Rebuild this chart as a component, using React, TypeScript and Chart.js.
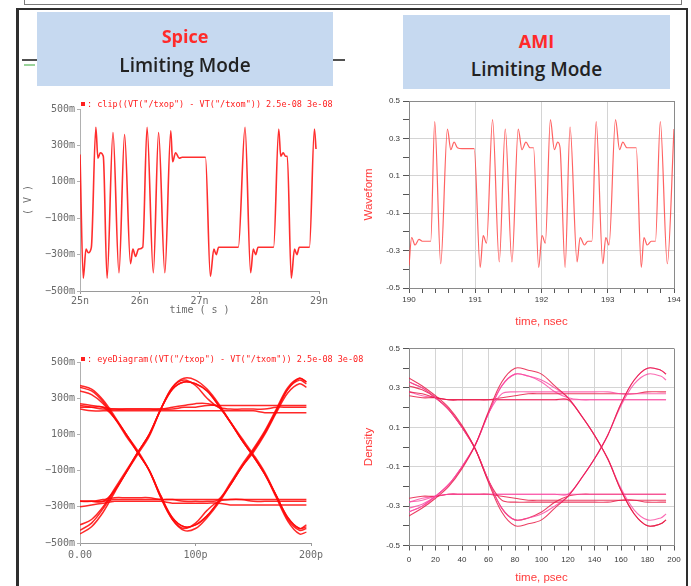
import React, { useEffect, useRef } from "react";
import { Chart, registerables } from "chart.js";

Chart.register(...registerables);

// ---------------- Spice transient waveform (top-left) ----------------
const SPICE_WAVE_T_NS = [25.0, 25.055, 25.1, 25.14, 25.19, 25.265, 25.3, 25.34, 25.39, 25.453, 25.552, 25.652, 25.746, 25.845, 25.885, 25.93, 25.98, 26.05, 26.122, 26.227, 26.315, 26.42, 26.519, 26.55, 26.6, 26.66, 26.71, 27.1, 27.182, 27.24, 27.28, 27.32, 27.65, 27.762, 27.856, 27.9, 27.94, 27.98, 28.24, 28.326, 28.36, 28.4, 28.44, 28.47, 28.536, 28.59, 28.63, 28.67, 28.84, 28.923, 28.95];
const SPICE_WAVE_V = [0.25, -0.43, -0.27, -0.29, -0.26, 0.4, 0.23, 0.26, 0.24, -0.43, 0.37, -0.4, 0.36, -0.35, -0.27, -0.31, -0.27, -0.26, 0.4, -0.4, 0.37, -0.4, 0.38, 0.21, 0.26, 0.23, 0.235, 0.235, -0.42, -0.27, -0.3, -0.26, -0.26, 0.4, -0.4, -0.27, -0.3, -0.26, -0.26, 0.39, 0.24, 0.26, 0.24, 0.24, -0.43, -0.27, -0.3, -0.26, -0.26, 0.39, 0.28];
const SPICE_WAVE_X_TICKS = [25, 26, 27, 28, 29];
const SPICE_WAVE_X_LABELS = ["25n", "26n", "27n", "28n", "29n"];
const SPICE_WAVE_LEGEND = ': clip((VT("/txop") - VT("/txom")) 2.5e-08 3e-08';

// ---------------- Spice eye diagram (bottom-left) ----------------
const SPICE_EYE_T_PS = [0, 10, 20, 30, 40, 50, 60, 70, 80, 90, 100, 110, 120, 130, 140, 150, 160, 170, 180, 190, 196];
const SPICE_EYE_1 = [0.37, 0.35, 0.29, 0.2, 0.1, 0.01, -0.1, -0.25, -0.37, -0.43, -0.42, -0.36, -0.28, -0.18, -0.08, 0.01, 0.11, 0.23, 0.35, 0.41, 0.39];
const SPICE_EYE_2 = [0.34, 0.32, 0.27, 0.19, 0.09, 0.0, -0.1, -0.24, -0.36, -0.41, -0.4, -0.35, -0.27, -0.18, -0.08, 0.0, 0.1, 0.22, 0.33, 0.38, 0.36];
const SPICE_EYE_3 = [-0.45, -0.41, -0.33, -0.22, -0.11, -0.01, 0.09, 0.24, 0.36, 0.41, 0.4, 0.35, 0.27, 0.17, 0.07, -0.02, -0.12, -0.25, -0.38, -0.45, -0.44];
const SPICE_EYE_4 = [-0.4, -0.37, -0.3, -0.2, -0.1, 0.0, 0.1, 0.24, 0.35, 0.39, 0.38, 0.34, 0.26, 0.17, 0.07, -0.02, -0.12, -0.24, -0.36, -0.42, -0.41];
const SPICE_EYE_5 = [0.36, 0.34, 0.28, 0.19, 0.1, 0.0, -0.1, -0.25, -0.37, -0.42, -0.39, -0.32, -0.27, -0.26, -0.26, -0.27, -0.27, -0.27, -0.27, -0.27, -0.27];
const SPICE_EYE_6 = [-0.43, -0.39, -0.31, -0.21, -0.11, 0.0, 0.1, 0.24, 0.36, 0.4, 0.37, 0.3, 0.25, 0.24, 0.24, 0.24, 0.24, 0.25, 0.25, 0.25, 0.25];
const SPICE_EYE_7 = [0.26, 0.25, 0.24, 0.24, 0.24, 0.24, 0.24, 0.24, 0.25, 0.26, 0.27, 0.27, 0.25, 0.17, 0.08, -0.01, -0.11, -0.24, -0.37, -0.43, -0.42];
const SPICE_EYE_8 = [-0.27, -0.27, -0.26, -0.25, -0.25, -0.25, -0.25, -0.26, -0.26, -0.27, -0.27, -0.27, -0.26, -0.17, -0.07, 0.02, 0.12, 0.24, 0.36, 0.41, 0.39];
const SPICE_EYE_9 = [0.27, 0.26, 0.25, 0.24, 0.24, 0.24, 0.24, 0.24, 0.24, 0.25, 0.25, 0.26, 0.26, 0.26, 0.26, 0.26, 0.26, 0.26, 0.26, 0.26, 0.26];
const SPICE_EYE_10 = [0.24, 0.23, 0.23, 0.23, 0.23, 0.23, 0.23, 0.23, 0.23, 0.23, 0.23, 0.23, 0.23, 0.23, 0.23, 0.23, 0.22, 0.22, 0.22, 0.22, 0.22];
const SPICE_EYE_11 = [-0.27, -0.27, -0.27, -0.26, -0.26, -0.26, -0.26, -0.26, -0.26, -0.26, -0.26, -0.26, -0.26, -0.26, -0.26, -0.26, -0.26, -0.26, -0.26, -0.26, -0.26];
const SPICE_EYE_12 = [-0.3, -0.29, -0.28, -0.27, -0.27, -0.27, -0.27, -0.27, -0.28, -0.28, -0.28, -0.28, -0.28, -0.29, -0.29, -0.29, -0.29, -0.29, -0.29, -0.29, -0.29];
const SPICE_EYE_13 = [0.25, 0.25, 0.25, 0.19, 0.1, 0.0, -0.1, -0.24, -0.36, -0.41, -0.4, -0.35, -0.27, -0.18, -0.08, 0.01, 0.11, 0.23, 0.35, 0.4, 0.38];
const SPICE_EYE_14 = [-0.27, -0.27, -0.27, -0.21, -0.11, 0.0, 0.1, 0.24, 0.35, 0.39, 0.38, 0.34, 0.26, 0.17, 0.07, -0.02, -0.12, -0.24, -0.36, -0.42, -0.4];
const SPICE_EYE_TRACES = [SPICE_EYE_1, SPICE_EYE_2, SPICE_EYE_3, SPICE_EYE_4, SPICE_EYE_5, SPICE_EYE_6, SPICE_EYE_7, SPICE_EYE_8, SPICE_EYE_9, SPICE_EYE_10, SPICE_EYE_11, SPICE_EYE_12, SPICE_EYE_13, SPICE_EYE_14];
const SPICE_EYE_X_TICKS = [0, 100, 200];
const SPICE_EYE_X_LABELS = ["0.00", "100p", "200p"];
const SPICE_EYE_LEGEND = ': eyeDiagram((VT("/txop") - VT("/txom")) 2.5e-08 3e-08';

const SPICE_Y_TICKS = [0.5, 0.3, 0.1, -0.1, -0.3, -0.5];
const SPICE_Y_LABELS = [" 500m", " 300m", " 100m", "\u2212100m", "\u2212300m", "\u2212500m"];

// ---------------- AMI waveform (top-right) ----------------
const AMI_WAVE_T_NS = [190.0, 190.04, 190.091, 190.151, 190.2, 190.328, 190.388, 190.479, 190.58, 190.631, 190.681, 190.731, 190.8, 190.984, 191.074, 191.12, 191.17, 191.261, 191.362, 191.453, 191.554, 191.649, 191.705, 191.765, 191.826, 191.88, 191.957, 192.008, 192.058, 192.134, 192.194, 192.245, 192.28, 192.356, 192.431, 192.537, 192.583, 192.648, 192.699, 192.76, 192.825, 192.926, 192.97, 193.02, 193.117, 193.178, 193.228, 193.289, 193.43, 193.506, 193.546, 193.596, 193.657, 193.72, 193.793, 193.899, 194.0];
const AMI_WAVE_V = [-0.38, -0.23, -0.27, -0.24, -0.25, -0.25, 0.39, -0.37, 0.35, 0.24, 0.28, 0.25, 0.245, 0.245, -0.39, -0.22, -0.26, 0.4, -0.36, 0.35, -0.36, 0.35, 0.24, 0.28, 0.25, 0.25, -0.39, -0.22, -0.26, 0.4, 0.24, 0.28, 0.25, -0.39, 0.36, -0.36, -0.23, -0.27, -0.25, -0.25, 0.39, -0.37, -0.23, -0.27, 0.4, 0.24, 0.28, 0.25, 0.25, -0.39, -0.23, -0.27, -0.25, -0.25, 0.39, -0.37, 0.35];
const AMI_WAVE_X_TICKS = [190, 190.2, 190.4, 190.6, 190.8, 191, 191.2, 191.4, 191.6, 191.8, 192, 192.2, 192.4, 192.6, 192.8, 193, 193.2, 193.4, 193.6, 193.8, 194];
const AMI_WAVE_X_LABELED = [190, 191, 192, 193, 194];

// ---------------- AMI eye diagram (bottom-right) ----------------
const AMI_EYE_T_PS = [0, 10, 20, 30, 40, 50, 60, 70, 80, 90, 100, 110, 120, 130, 140, 150, 160, 170, 180, 190, 194];
const AMI_EYE_1 = [0.35, 0.31, 0.26, 0.2, 0.11, -0.01, -0.18, -0.33, -0.4, -0.39, -0.37, -0.31, -0.25, -0.16, -0.06, 0.06, 0.22, 0.34, 0.4, 0.39, 0.37];
const AMI_EYE_2 = [0.33, 0.3, 0.25, 0.19, 0.1, -0.01, -0.17, -0.31, -0.37, -0.36, -0.34, -0.3, -0.25, -0.16, -0.06, 0.06, 0.21, 0.32, 0.37, 0.36, 0.34];
const AMI_EYE_3 = [-0.35, -0.31, -0.26, -0.2, -0.11, 0.01, 0.18, 0.33, 0.4, 0.39, 0.37, 0.31, 0.25, 0.16, 0.06, -0.06, -0.22, -0.34, -0.4, -0.39, -0.37];
const AMI_EYE_4 = [-0.33, -0.3, -0.25, -0.19, -0.1, 0.01, 0.17, 0.31, 0.37, 0.36, 0.34, 0.3, 0.25, 0.16, 0.06, -0.06, -0.21, -0.32, -0.37, -0.36, -0.34];
const AMI_EYE_5 = [0.31, 0.29, 0.25, 0.19, 0.1, -0.01, -0.17, -0.27, -0.28, -0.28, -0.28, -0.28, -0.28, -0.28, -0.28, -0.28, -0.27, -0.27, -0.27, -0.27, -0.27];
const AMI_EYE_6 = [-0.31, -0.29, -0.25, -0.19, -0.1, 0.01, 0.17, 0.27, 0.28, 0.28, 0.28, 0.28, 0.28, 0.28, 0.28, 0.28, 0.27, 0.27, 0.27, 0.27, 0.27];
const AMI_EYE_7 = [0.28, 0.27, 0.25, 0.24, 0.24, 0.24, 0.24, 0.24, 0.24, 0.24, 0.24, 0.24, 0.24, 0.16, 0.06, -0.06, -0.22, -0.34, -0.4, -0.39, -0.37];
const AMI_EYE_8 = [-0.28, -0.27, -0.25, -0.24, -0.24, -0.24, -0.24, -0.24, -0.24, -0.24, -0.24, -0.24, -0.24, -0.16, -0.06, 0.06, 0.22, 0.34, 0.4, 0.39, 0.37];
const AMI_EYE_9 = [0.26, 0.25, 0.25, 0.24, 0.24, 0.24, 0.24, 0.25, 0.26, 0.27, 0.27, 0.27, 0.27, 0.27, 0.27, 0.27, 0.27, 0.27, 0.28, 0.28, 0.28];
const AMI_EYE_10 = [0.28, 0.26, 0.25, 0.24, 0.24, 0.24, 0.24, 0.24, 0.24, 0.24, 0.24, 0.24, 0.24, 0.24, 0.24, 0.24, 0.24, 0.24, 0.24, 0.24, 0.24];
const AMI_EYE_11 = [-0.26, -0.25, -0.25, -0.24, -0.24, -0.24, -0.24, -0.25, -0.26, -0.27, -0.27, -0.27, -0.27, -0.27, -0.27, -0.27, -0.27, -0.27, -0.28, -0.28, -0.28];
const AMI_EYE_12 = [-0.28, -0.26, -0.25, -0.24, -0.24, -0.24, -0.24, -0.24, -0.24, -0.24, -0.24, -0.24, -0.24, -0.24, -0.24, -0.24, -0.24, -0.24, -0.24, -0.24, -0.24];
const AMI_EYE_13 = [0.33, 0.3, 0.25, 0.19, 0.1, -0.01, -0.17, -0.31, -0.37, -0.36, -0.33, -0.28, -0.25, -0.24, -0.24, -0.24, -0.24, -0.24, -0.24, -0.24, -0.24];
const AMI_EYE_14 = [-0.33, -0.3, -0.25, -0.19, -0.1, 0.01, 0.17, 0.31, 0.37, 0.36, 0.33, 0.28, 0.25, 0.24, 0.24, 0.24, 0.24, 0.24, 0.24, 0.24, 0.24];
const AMI_EYE_TRACES = [AMI_EYE_1, AMI_EYE_2, AMI_EYE_3, AMI_EYE_4, AMI_EYE_5, AMI_EYE_6, AMI_EYE_7, AMI_EYE_8, AMI_EYE_9, AMI_EYE_10, AMI_EYE_11, AMI_EYE_12, AMI_EYE_13, AMI_EYE_14];
const AMI_EYE_X_TICKS = [0, 10, 20, 30, 40, 50, 60, 70, 80, 90, 100, 110, 120, 130, 140, 150, 160, 170, 180, 190, 200];
const AMI_EYE_X_LABELED = [0, 20, 40, 60, 80, 100, 120, 140, 160, 180, 200];

const AMI_Y_TICKS = [-0.5, -0.4, -0.3, -0.2, -0.1, 0, 0.1, 0.2, 0.3, 0.4, 0.5];
const AMI_Y_LABELED = [-0.5, -0.3, -0.1, 0.1, 0.3, 0.5];

// ---------------- styling helpers ----------------
const MONO = "'DejaVu Sans Mono', monospace";
const SANS = "'Liberation Sans', Arial, sans-serif";
const HEAD = "'Open Sans', sans-serif";
const CLEAR = "rgba(0,0,0,0)";
const near = (list: number[], v: number) => list.some((m) => Math.abs(m - v) < 1e-6);

const spiceX = (ticks: number[], labels: string[], min: number, max: number, h: number, title: string | null, pad: number) => ({
  type: "linear",
  min,
  max,
  afterBuildTicks: (s: any) => {
    s.ticks = ticks.map((v) => ({ value: v }));
  },
  afterFit: (s: any) => {
    s.height = h;
  },
  ticks: {
    autoSkip: false,
    maxRotation: 0,
    padding: pad,
    color: "#6b6b6b",
    font: { family: MONO, size: 10 },
    callback: (v: number) => labels[ticks.indexOf(v)] ?? "",
  },
  grid: { drawOnChartArea: false, tickLength: 3, color: "#9a9a9a" },
  border: { display: true, color: "#9a9a9a", dash: [3, 2] },
  title: title
    ? { display: true, text: title, color: "#6b6b6b", font: { family: MONO, size: 10 }, padding: { top: 0, bottom: 9 } }
    : { display: false },
});

const spiceY = (title: string | null) => ({
  type: "linear",
  min: -0.5,
  max: 0.5,
  afterBuildTicks: (s: any) => {
    s.ticks = SPICE_Y_TICKS.map((v) => ({ value: v }));
  },
  afterFit: (s: any) => {
    s.width = 60;
  },
  ticks: {
    autoSkip: false,
    padding: 2,
    color: "#6b6b6b",
    font: { family: MONO, size: 10 },
    callback: (v: number) => SPICE_Y_LABELS[SPICE_Y_TICKS.indexOf(v)] ?? "",
  },
  grid: { drawOnChartArea: false, tickLength: 3, color: "#b0b0b0" },
  border: { display: true, color: "#b0b0b0" },
  title: title
    ? { display: true, text: title, color: "#6b6b6b", font: { family: MONO, size: 10 }, padding: { top: 2, bottom: 0 } }
    : { display: false },
});

const amiX = (ticks: number[], labeled: number[], min: number, max: number, h: number, title: string, padBottom: number, labelPad: number) => ({
  type: "linear",
  min,
  max,
  afterBuildTicks: (s: any) => {
    s.ticks = ticks.map((v) => ({ value: v }));
  },
  afterFit: (s: any) => {
    s.height = h;
  },
  ticks: {
    autoSkip: false,
    maxRotation: 0,
    padding: labelPad,
    color: "#383838",
    font: { family: SANS, size: 8 },
    callback: (v: number) => (near(labeled, v) ? String(Math.round(v)) : ""),
  },
  grid: {
    tickLength: 5,
    tickColor: "#555555",
    color: (c: any) => {
      const v = c.tick ? c.tick.value : NaN;
      if (Math.abs(v - max) < 1e-6) return "#8a8a8a";
      if (Math.abs(v - min) < 1e-6) return CLEAR;
      return near(labeled, v) ? "#d4d4d4" : CLEAR;
    },
  },
  border: { display: true, color: "#8a8a8a" },
  title: { display: true, text: title, color: "#ff3b3b", font: { family: SANS, size: 11.5 }, padding: { top: 0, bottom: padBottom } },
});

const amiY = (title: string) => ({
  type: "linear",
  min: -0.5,
  max: 0.5,
  afterBuildTicks: (s: any) => {
    s.ticks = AMI_Y_TICKS.map((v) => ({ value: v }));
  },
  afterFit: (s: any) => {
    s.width = 64;
  },
  ticks: {
    autoSkip: false,
    padding: 3,
    color: "#383838",
    font: { family: SANS, size: 8 },
    callback: (v: number) => (near(AMI_Y_LABELED, v) ? (Math.round(v * 10) / 10).toFixed(1) : ""),
  },
  grid: {
    tickLength: 6,
    tickColor: "#555555",
    color: (c: any) => {
      const v = c.tick ? c.tick.value : NaN;
      if (Math.abs(v - 0.5) < 1e-6) return "#8a8a8a";
      if (Math.abs(v + 0.5) < 1e-6) return CLEAR;
      return near(AMI_Y_LABELED, v) ? "#d4d4d4" : CLEAR;
    },
  },
  border: { display: true, color: "#8a8a8a" },
  title: { display: true, text: title, color: "#ff3b3b", font: { family: SANS, size: 11.5 }, padding: { top: 17, bottom: 0 } },
});

const baseOptions = (padding: any, scales: any) => ({
  animation: false,
  responsive: false,
  maintainAspectRatio: false,
  events: [],
  layout: { padding },
  plugins: { legend: { display: false }, tooltip: { enabled: false } },
  scales,
});

const buildSpiceWave = () => ({
  type: "line",
  data: {
    datasets: [
      {
        label: SPICE_WAVE_LEGEND,
        data: SPICE_WAVE_T_NS.map((t, i) => ({ x: t, y: SPICE_WAVE_V[i] })),
        borderColor: "rgba(255,28,28,0.92)",
        borderWidth: 1.6,
        pointRadius: 0,
        cubicInterpolationMode: "monotone",
        fill: false,
      },
    ],
  },
  options: baseOptions(
    { top: 19, right: 21, bottom: 0, left: 0 },
    {
      x: spiceX(SPICE_WAVE_X_TICKS, SPICE_WAVE_X_LABELS, 25, 29, 34, "time ( s )", 1),
      y: spiceY("( V )"),
    }
  ),
});

const buildSpiceEye = () => ({
  type: "line",
  data: {
    datasets: SPICE_EYE_TRACES.map((tr, k) => ({
      label: k === 0 ? SPICE_EYE_LEGEND : "trace " + (k + 1),
      data: SPICE_EYE_T_PS.map((t, i) => ({ x: t, y: tr[i] })),
      borderColor: "rgba(255,10,10,0.88)",
      borderWidth: 1.5,
      pointRadius: 0,
      tension: 0.35,
      fill: false,
    })),
  },
  options: baseOptions(
    { top: 22, right: 29, bottom: 0, left: 0 },
    {
      x: spiceX(SPICE_EYE_X_TICKS, SPICE_EYE_X_LABELS, 0, 200, 43, null, 3),
      y: spiceY(null),
    }
  ),
});

const buildAmiWave = () => ({
  type: "line",
  data: {
    datasets: [
      {
        label: "Waveform",
        data: AMI_WAVE_T_NS.map((t, i) => ({ x: t, y: AMI_WAVE_V[i] })),
        borderColor: "rgba(255,70,70,0.85)",
        borderWidth: 1.2,
        pointRadius: 0,
        cubicInterpolationMode: "monotone",
        fill: false,
      },
    ],
  },
  options: baseOptions(
    { top: 13, right: 16, bottom: 0, left: 0 },
    {
      x: amiX(AMI_WAVE_X_TICKS, AMI_WAVE_X_LABELED, 190, 194, 45, "time, nsec", 4, 2),
      y: amiY("Waveform"),
    }
  ),
});

const AMI_EYE_COLORS = ["rgba(232,28,70,0.85)", "rgba(250,70,160,0.8)"];

const buildAmiEye = () => ({
  type: "line",
  data: {
    datasets: AMI_EYE_TRACES.map((tr, k) => ({
      label: "Density " + (k + 1),
      data: AMI_EYE_T_PS.map((t, i) => ({ x: t, y: tr[i] })),
      borderColor: AMI_EYE_COLORS[k % 2],
      borderWidth: 1.1,
      pointRadius: 0,
      tension: 0.35,
      fill: false,
    })),
  },
  options: baseOptions(
    { top: 13.5, right: 16, bottom: 0, left: 0 },
    {
      x: amiX(AMI_EYE_X_TICKS, AMI_EYE_X_LABELED, 0, 200, 40.5, "time, psec", 1, 4),
      y: amiY("Density"),
    }
  ),
});

function ChartCanvas({ left, top, width, height, build }: any) {
  const ref = useRef<HTMLCanvasElement | null>(null);
  useEffect(() => {
    const chart = new Chart(ref.current as HTMLCanvasElement, build() as any);
    return () => chart.destroy();
  }, [build]);
  return (
    <canvas
      ref={ref}
      width={width}
      height={height}
      style={{ position: "absolute", left, top, width, height, display: "block" }}
    />
  );
}

function LegendTag({ left, top, text }: any) {
  return (
    <div
      style={{
        position: "absolute",
        left,
        top,
        whiteSpace: "pre",
        fontFamily: MONO,
        fontSize: 8.5,
        lineHeight: "10px",
        color: "#ff2020",
        display: "flex",
        alignItems: "center",
      }}
    >
      <span style={{ display: "inline-block", width: 4, height: 4, background: "#ff2020", marginRight: 2 }} />
      <span>{text}</span>
    </div>
  );
}

function HeaderBox({ left, top, width, height, title, titleY, subY }: any) {
  return (
    <div style={{ position: "absolute", left, top, width, height, background: "#c6d9f0" }}>
      <div
        style={{
          position: "absolute",
          left: 0,
          width,
          top: titleY,
          textAlign: "center",
          fontFamily: HEAD,
          fontWeight: 700,
          fontSize: 18,
          lineHeight: "22px",
          color: "#ff2a2a",
        }}
      >
        {title}
      </div>
      <div
        style={{
          position: "absolute",
          left: 0,
          width,
          top: subY,
          textAlign: "center",
          fontFamily: HEAD,
          fontWeight: 600,
          fontSize: 19,
          lineHeight: "24px",
          color: "#222222",
        }}
      >
        Limiting Mode
      </div>
    </div>
  );
}

export default function App() {
  return (
    <div
      style={{
        position: "fixed",
        left: 0,
        top: 0,
        width: 691,
        height: 586,
        background: "#ffffff",
        overflow: "hidden",
      }}
    >
      {/* top strip box */}
      <div
        style={{
          position: "absolute",
          left: 24,
          top: -10,
          width: 658,
          height: 15,
          border: "1.5px solid #7a7a7a",
          boxSizing: "border-box",
        }}
      />
      {/* main frame */}
      <div
        style={{
          position: "absolute",
          left: 16,
          top: 8,
          width: 672,
          height: 700,
          borderLeft: "3px solid #2e2e2e",
          borderTop: "2px solid #2e2e2e",
          borderRight: "2px solid #2e2e2e",
          boxSizing: "border-box",
        }}
      />
      {/* window edge behind the Spice label */}
      <div style={{ position: "absolute", left: 22, top: 59, width: 323, height: 2, background: "#505050" }} />
      <div style={{ position: "absolute", left: 24, top: 64, width: 11, height: 2, background: "#9ad39a" }} />

      <ChartCanvas left={20} top={90} width={320} height={235} build={buildSpiceWave} />
      <ChartCanvas left={20} top={340} width={320} height={246} build={buildSpiceEye} />
      <ChartCanvas left={345} top={88} width={345} height={245} build={buildAmiWave} />
      <ChartCanvas left={345} top={335} width={345} height={251} build={buildAmiEye} />

      <LegendTag left={81} top={99} text={SPICE_WAVE_LEGEND} />
      <LegendTag left={81} top={354} text={SPICE_EYE_LEGEND} />

      <HeaderBox left={37} top={12} width={296} height={74} title="Spice" titleY={13} subY={41} />
      <HeaderBox left={403} top={15} width={267} height={74} title="AMI" titleY={15} subY={42} />
    </div>
  );
}
